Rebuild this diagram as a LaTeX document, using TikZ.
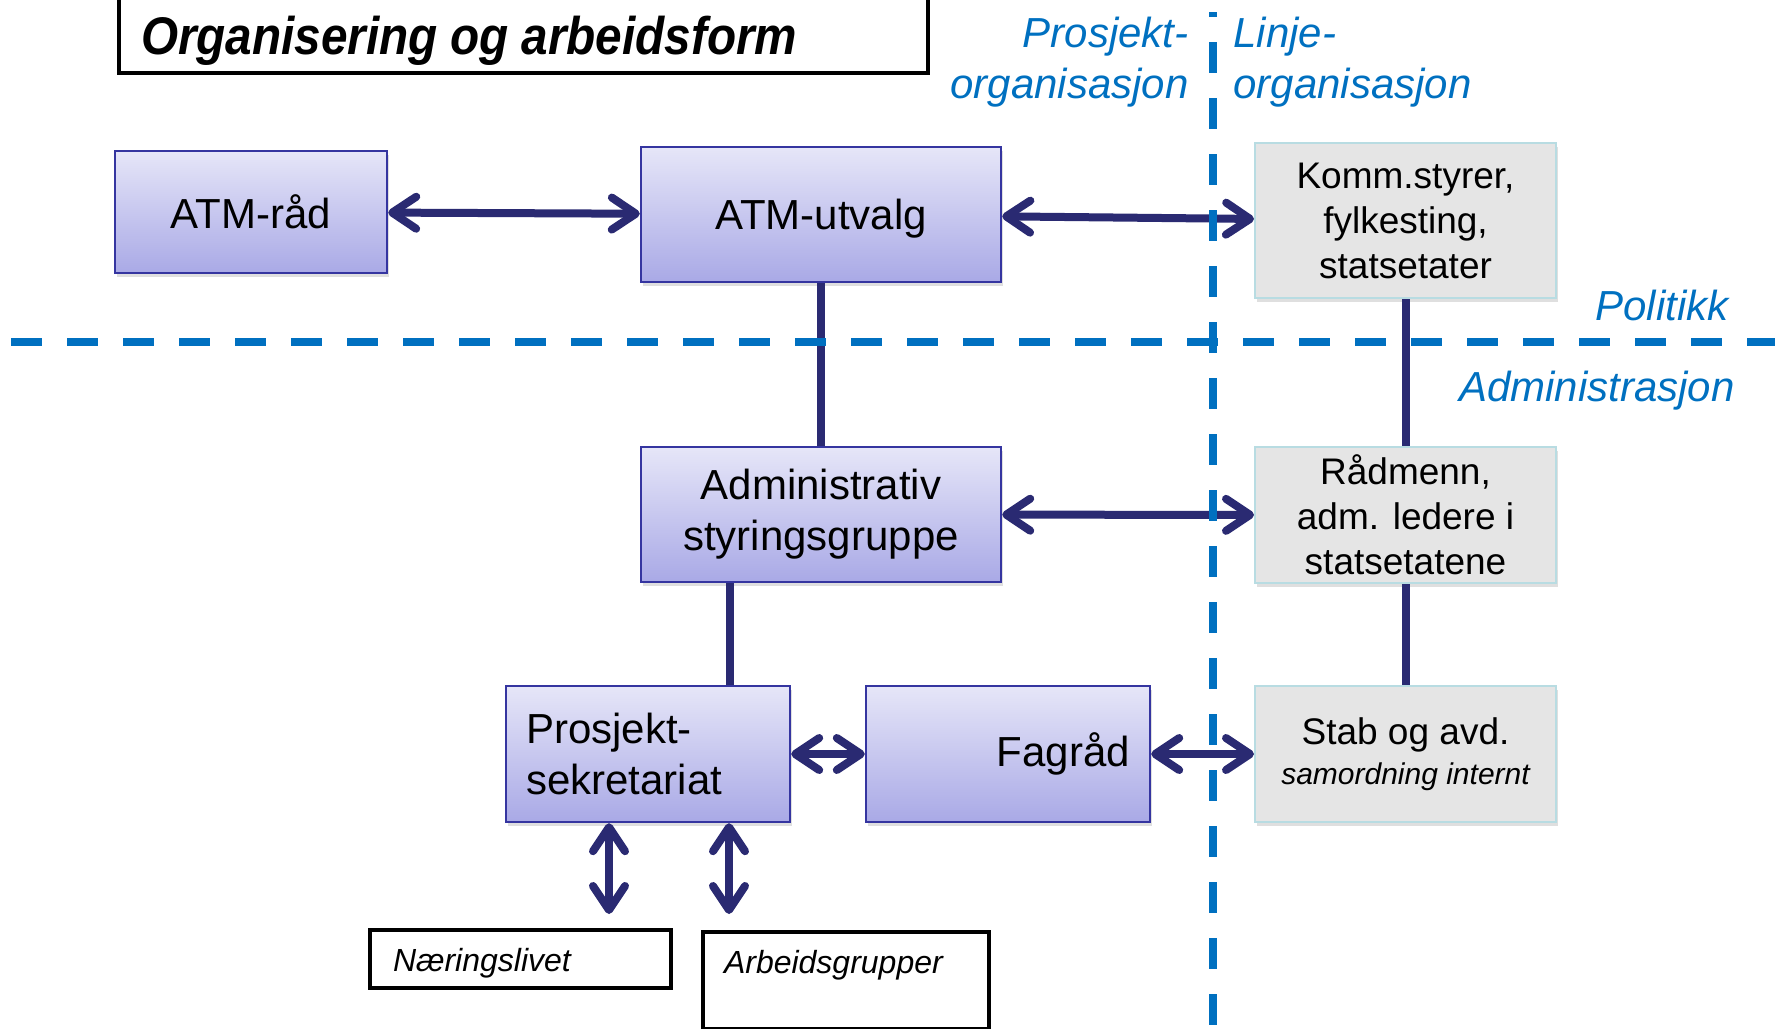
\documentclass[tikz,border=0pt]{standalone}
\usepackage{fontspec}
\setmainfont{Liberation Sans}
\newfontfamily\titlefont{Liberation Sans}[FakeStretch=0.9]
\usetikzlibrary{arrows.meta,shadows,calc}
\definecolor{linkcol}{HTML}{2A2A72}
\definecolor{divcol}{HTML}{0070C0}
\definecolor{boxtop}{HTML}{E6E6F8}
\definecolor{boxbot}{HTML}{A9A9E6}
\definecolor{boxedge}{HTML}{3535A0}
\definecolor{greyfill}{HTML}{E5E5E5}
\definecolor{greyedge}{HTML}{B8DCE2}
\begin{document}
\begin{tikzpicture}[x=0.5pt,y=-0.5pt,>={Straight Barb[length=12pt,width=16pt,round]},
	bluebox/.style={draw=boxedge, line width=1.2pt, top color=boxtop, bottom color=boxbot,
		drop shadow={shadow xshift=1pt,shadow yshift=-2pt,opacity=.25},
		minimum height=67.5pt, align=center, font=\fontsize{21}{25.5}\selectfont},
	greybox/.style={draw=greyedge, line width=1pt, fill=greyfill,
		drop shadow={shadow xshift=1pt,shadow yshift=-2pt,opacity=.25},
		minimum width=150.5pt, minimum height=68pt, inner ysep=2pt, align=center,
		font=\fontsize{18.5}{22.5}\selectfont},
	whitebox/.style={draw=black, line width=2pt, fill=white, anchor=north west, align=left,
		inner ysep=4pt, text height=16.5pt, font=\fontsize{16}{19}\selectfont\itshape},
	conn/.style={draw=linkcol, line width=4pt},
	dbl/.style={conn, <->},
	divider/.style={draw=divcol, line width=4pt, dash pattern=on 15.5pt off 12.5pt},
	side/.style={text=divcol, inner sep=0pt, font=\fontsize{21}{25.5}\selectfont\itshape}]
	\useasboundingbox (0,0) rectangle (1775,1028);
	\clip (0,0) rectangle (1775,1028);
	
	\node[draw, line width=2pt, anchor=south west, text width=382.5pt, inner xsep=11pt, inner ysep=4.5pt,
		text height=30pt, text depth=5pt, align=left,
		font=\titlefont\fontsize{26.5}{30}\selectfont\bfseries\itshape] (title) at (117,75) {\spaceskip=0.24em\relax Organisering og arbeidsform};
	
	\node[bluebox, minimum width=136pt, minimum height=61pt] (raad) at (251,212) {ATM-råd};
	\node[bluebox, minimum width=180pt, text depth=0pt] (utvalg) at (821,214.5) {ATM-utvalg};
	\node[bluebox, minimum width=180pt] (adm) at (821,514.5) {Administrativ\\styringsgruppe};
	\node[bluebox, minimum height=68pt, text width=122pt, inner xsep=10pt, align=left] (prosj) at (648,754) {Prosjekt-\\sekretariat};
	\node[bluebox, minimum height=68pt, text width=122pt, inner xsep=10pt, align=right] (fag) at (1008,754) {Fagråd};
	
	\node[greybox, minimum height=77.5pt] (komm) at (1405.5,220.5) {Komm.styrer,\\fylkesting,\\statsetater};
	\node[greybox] (radm) at (1405.5,515) {Rådmenn,\\adm. ledere i\\statsetatene};
	\node[greybox, font=\fontsize{18.5}{20}\selectfont] (stab) at (1405.5,754) {Stab og avd.\\{\fontsize{15}{20}\selectfont\itshape samordning internt}};
	
	\node[whitebox, text width=127.5pt, inner xsep=11.5pt, text depth=4.5pt] (naer) at (368,928) {Næringslivet};
	\node[whitebox, text width=122pt, inner xsep=10.5pt, text depth=24pt] (arb) at (701,930) {Arbeidsgrupper};
	
	\node[side, align=right, anchor=east] (prosjorg) at (1189,62) {Prosjekt-\\organisasjon};
	\node[side, align=left, anchor=west] (linjeorg) at (1233,62) {Linje-\\organisasjon};
	\node[side, anchor=base east] (pol) at (1729,320) {Politikk};
	\node[side, anchor=base east] (admin) at (1735,401) {Administrasjon};
	
	\foreach \a/\b in {utvalg/adm,komm/radm,radm/stab}
	\draw[conn] (\a) -- (\b);
	\path ($(adm.south west)!.25!(adm.south east)$) coordinate (admfoot);
	\draw[conn] (admfoot) -- (admfoot |- prosj.north);
	\foreach \a/\b in {raad/utvalg,utvalg/komm,adm/radm,prosj/fag,fag/stab}
	\draw[dbl] (\a) -- (\b);
	\coordinate (naerin) at (609,914);
	\coordinate (arbin) at (729,914);
	\draw[dbl] (prosj.south -| naerin) -- (naerin);
	\draw[dbl] (prosj.south -| arbin) -- (arbin);
	
	\draw[divider] (11,341.5) -- (1775,341.5);
	\draw[divider, dash phase=12.85pt] (1213,12) -- (1213,1028);
\end{tikzpicture}
\end{document}
